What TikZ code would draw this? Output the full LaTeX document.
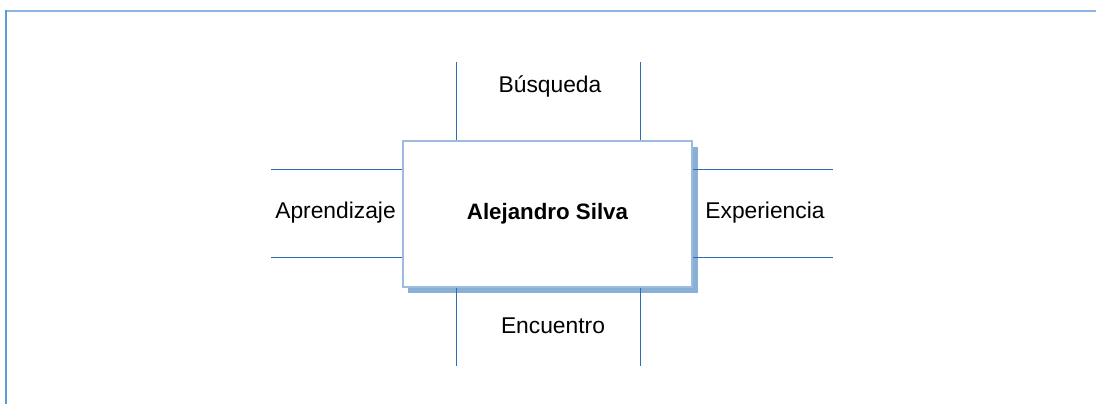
\documentclass[tikz,border=0pt]{standalone}
\usepackage{fontspec}
\setmainfont{Liberation Sans}
\definecolor{framecol}{HTML}{8DB3E2}
\definecolor{frameleft}{HTML}{5B9BD5}
\definecolor{linecol}{HTML}{2E6DB4}
\definecolor{boxcol}{HTML}{9DBBDF}
\definecolor{shadowcol}{HTML}{88AFD6}
\begin{document}
\begin{tikzpicture}[x=1pt,y=-1pt,
  conn/.style={draw=linecol,line width=1pt},
  lbl/.style={font=\fontsize{22.8}{27}\selectfont,text=black,inner sep=0pt},
  mainbox/.style={draw=boxcol,line width=1.3pt,fill=white,minimum width=289pt,minimum height=146pt,inner sep=0pt,font=\fontsize{22.3}{27}\selectfont\bfseries}
]
\useasboundingbox (0,0) rectangle (1096,404);
% frame
\draw[framecol,line width=2pt] (6,11) -- (1096,11);
\draw[frameleft,line width=2pt] (6,10) -- (6,404);
% connector end points
\coordinate (t1) at (456.5,62);
\coordinate (t2) at (640.5,62);
\coordinate (b1) at (456.5,366);
\coordinate (b2) at (640.5,366);
\coordinate (l1) at (271,169);
\coordinate (l2) at (271,257);
\coordinate (r1) at (833,169);
\coordinate (r2) at (833,257);
% shadow
\fill[shadowcol] (408,147) rectangle (697.5,293);
% main box
\node[mainbox] (box) at (547.5,214) {Alejandro Silva};
% connectors
\draw[conn] (t1) -- (t1 |- box.north);
\draw[conn] (t2) -- (t2 |- box.north);
\draw[conn] (b1 |- box.south) -- (b1);
\draw[conn] (b2 |- box.south) -- (b2);
\draw[conn] (l1) -- (l1 -| box.west);
\draw[conn] (l2) -- (l2 -| box.west);
\draw[conn] (r1 -| box.east) -- (r1);
\draw[conn] (r2 -| box.east) -- (r2);
% labels
\node[lbl] (top) at (550,86) {Búsqueda};
\node[lbl] (bottom) at (553,326) {Encuentro};
\node[lbl] (left) at (335.5,213) {Aprendizaje};
\node[lbl] (right) at (765,213) {Experiencia};
\end{tikzpicture}
\end{document}
